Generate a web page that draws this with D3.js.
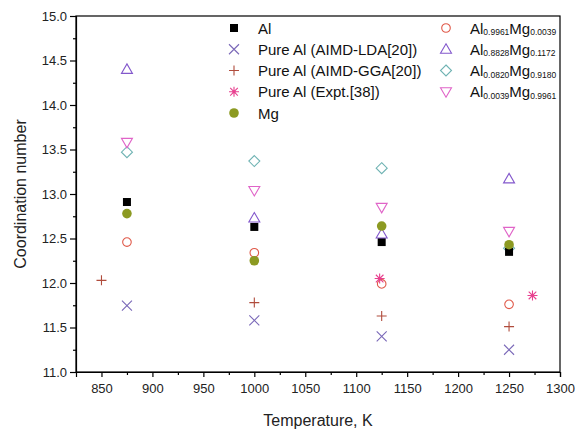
<!DOCTYPE html>
<html><head><meta charset="utf-8">
<script src="https://cdn.jsdelivr.net/npm/d3@7/dist/d3.min.js"></script>
<style>body{margin:0;background:#fff;}svg{display:block;font-family:"Liberation Sans",Arial,sans-serif;}</style>
</head><body><svg id="c" width="575" height="431"></svg>
<script>
const xTicks = [850,900,950,1000,1050,1100,1150,1200,1250,1300];
const yTicks = [11.0,11.5,12.0,12.5,13.0,13.5,14.0,14.5,15.0];
const temps = [875,1000,1125,1250];
const alValues = [12.91,12.63,12.46,12.35];
const ldaValues = [11.745,11.58,11.40,11.25];
const ggaTemps = [850,1000,1125,1250];
const ggaValues = [12.03,11.78,11.63,11.51];
const exptTemps = [1123,1273];
const exptValues = [12.05,11.86];
const mgValues = [12.78,12.25,12.64,12.43];
const c1Values = [12.46,12.34,11.99,11.76];
const c2Values = [14.40,12.73,12.55,13.17];
const c3Values = [13.47,13.37,13.29,12.39];
const c4Values = [13.58,13.04,12.85,12.58];

const svg = d3.select("#c");
const L=76,R=560,T=16,B=372;
const x = d3.scaleLinear().domain([825,1300]).range([L,R]);
const y = d3.scaleLinear().domain([11,15]).range([B,T]);

// frame
svg.append("rect").attr("x",L).attr("y",T).attr("width",R-L).attr("height",B-T)
  .attr("fill","none").attr("stroke","#000").attr("stroke-width",1.2);

// x axis
const xa = svg.append("g").attr("transform",`translate(0,${B})`)
  .call(d3.axisBottom(x).tickValues(xTicks).tickSize(5).tickPadding(7).tickFormat(d3.format("d")));
svg.append("g").attr("transform",`translate(0,${B})`)
  .call(d3.axisBottom(x).tickValues(d3.range(875,1300,50)).tickSize(3).tickFormat(""))
  .call(g=>g.select(".domain").remove());
const ya = svg.append("g").attr("transform",`translate(${L},0)`)
  .call(d3.axisLeft(y).tickValues(yTicks).tickSize(6).tickPadding(3).tickFormat(d3.format(".1f")));
svg.append("g").attr("transform",`translate(${L},0)`)
  .call(d3.axisLeft(y).tickValues(d3.range(11.25,15,0.5)).tickSize(3).tickFormat(""))
  .call(g=>g.select(".domain").remove());
svg.selectAll(".domain").attr("stroke","#000").attr("stroke-width",1.2);
svg.selectAll(".tick line").attr("stroke","#000").attr("stroke-width",1.2);
svg.selectAll(".tick text").attr("font-size",13).attr("fill","#222")
  .attr("font-family","Liberation Sans,Arial,sans-serif");

svg.append("text").attr("x",318).attr("y",426).attr("text-anchor","middle")
  .attr("font-size",16).attr("fill","#222").text("Temperature, K");
svg.append("text").attr("transform","translate(26,194) rotate(-90)").attr("text-anchor","middle")
  .attr("font-size",16).attr("fill","#222").text("Coordination number");

// marker drawing
function marker(g, type, color){
  const sw=1.1;
  if(type==="square"){ g.append("rect").attr("x",-4).attr("y",-4).attr("width",8).attr("height",8).attr("fill","#000"); }
  else if(type==="dot"){ g.append("circle").attr("r",4.8).attr("fill",color); }
  else if(type==="circle"){ g.append("circle").attr("r",4.3).attr("fill","none").attr("stroke",color).attr("stroke-width",sw); }
  else if(type==="x"){ g.append("path").attr("d","M-5,-5L5,5M-5,5L5,-5").attr("stroke",color).attr("stroke-width",sw).attr("fill","none"); }
  else if(type==="plus"){ g.append("path").attr("d","M-5,0L5,0M0,-5L0,5").attr("stroke",color).attr("stroke-width",sw).attr("fill","none"); }
  else if(type==="star"){ g.append("path").attr("d","M-5,0L5,0M0,-5L0,5M-3.8,-3.8L3.8,3.8M-3.8,3.8L3.8,-3.8").attr("stroke",color).attr("stroke-width",sw).attr("fill","none");
    g.append("circle").attr("r",1.6).attr("fill",color); }
  else if(type==="tri"){ g.append("path").attr("d","M0,-5.5L5.5,4L-5.5,4Z").attr("fill","none").attr("stroke",color).attr("stroke-width",sw); }
  else if(type==="tridown"){ g.append("path").attr("d","M0,5.5L5.5,-4L-5.5,-4Z").attr("fill","none").attr("stroke",color).attr("stroke-width",sw); }
  else if(type==="diamond"){ g.append("path").attr("d","M0,-5.5L5.5,0L0,5.5L-5.5,0Z").attr("fill","none").attr("stroke",color).attr("stroke-width",sw); }
}

const series = [
  {name:"c3", t:temps, v:c3Values, type:"diamond", color:"#6fb3b3"},
  {name:"c4", t:temps, v:c4Values, type:"tridown", color:"#e064c8"},
  {name:"c1", t:temps, v:c1Values, type:"circle", color:"#e05a4a"},
  {name:"lda", t:temps, v:ldaValues, type:"x", color:"#7a68b8"},
  {name:"gga", t:ggaTemps, v:ggaValues, type:"plus", color:"#b04c3c"},
  {name:"expt", t:exptTemps, v:exptValues, type:"star", color:"#e8408f"},
  {name:"al", t:temps, v:alValues, type:"square", color:"#000"},
  {name:"c2", t:temps, v:c2Values, type:"tri", color:"#8358cc"},
  {name:"mg", t:temps, v:mgValues, type:"dot", color:"#8c9a22"},
];
series.forEach(s=>{
  s.t.forEach((tv,i)=>{
    const g = svg.append("g").attr("transform",`translate(${x(tv)},${y(s.v[i])})`);
    marker(g,s.type,s.color);
  });
});

// legend
const leg1 = [
  {type:"square",color:"#000",label:"Al"},
  {type:"x",color:"#7a68b8",label:"Pure Al (AIMD-LDA[20])"},
  {type:"plus",color:"#b04c3c",label:"Pure Al (AIMD-GGA[20])"},
  {type:"star",color:"#e8408f",label:"Pure Al (Expt.[38])"},
  {type:"dot",color:"#8c9a22",label:"Mg"},
];
const leg2 = [
  {type:"circle",color:"#e05a4a",a:"0.9961",b:"0.0039"},
  {type:"tri",color:"#8358cc",a:"0.8828",b:"0.1172"},
  {type:"diamond",color:"#6fb3b3",a:"0.0820",b:"0.9180"},
  {type:"tridown",color:"#e064c8",a:"0.0039",b:"0.9961"},
];
const rowY = i=>28+i*21.25;
leg1.forEach((d,i)=>{
  const g=svg.append("g").attr("transform",`translate(234,${rowY(i)})`);
  marker(g,d.type,d.color);
  svg.append("text").attr("x",258).attr("y",rowY(i)+5.5).attr("font-size",15).attr("fill","#111").text(d.label);
});
leg2.forEach((d,i)=>{
  const g=svg.append("g").attr("transform",`translate(446,${rowY(i)})`);
  marker(g,d.type,d.color);
  const t=svg.append("text").attr("x",470).attr("y",rowY(i)+5.5).attr("font-size",15).attr("fill","#111");
  t.append("tspan").text("Al");
  t.append("tspan").attr("font-size",8.5).attr("dy",1.5).text(d.a);
  t.append("tspan").attr("dy",-1.5).text("Mg");
  t.append("tspan").attr("font-size",8.5).attr("dy",1.5).text(d.b);
});
</script></body></html>
